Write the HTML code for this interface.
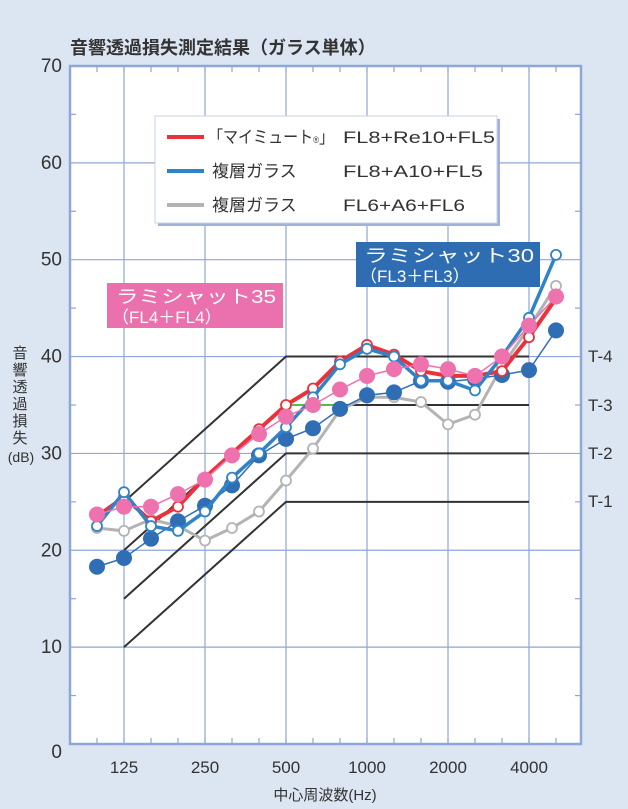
<!DOCTYPE html>
<html><head><meta charset="utf-8"><style>
body{margin:0;background:#dce5f2;}
svg{display:block;font-family:"Liberation Sans","Noto Sans CJK JP",sans-serif;}
</style></head><body>
<svg id="s" width="628" height="809" viewBox="0 0 628 809" xmlns="http://www.w3.org/2000/svg">
<rect x="0" y="0" width="628" height="809" fill="#dce5f2"/>
<text x="70" y="54" font-size="18" fill="#333" font-weight="bold">音響透過損失測定結果（ガラス単体）</text>
<rect x="70" y="66" width="511" height="678" fill="#fff" stroke="#8ea6d8" stroke-width="2.5"/>
<g id="grid" stroke="#8ea6d8" stroke-width="1.2"></g>
<g font-size="19" fill="#333" text-anchor="end" id="ylab"></g>
<g font-size="17" fill="#333" text-anchor="middle">
<text x="124" y="773">125</text><text x="205" y="773">250</text><text x="286" y="773">500</text>
<text x="367" y="773">1000</text><text x="448" y="773">2000</text><text x="529" y="773">4000</text>
<text x="325" y="800" font-size="15">中心周波数(Hz)</text>
</g>
<g font-size="15" fill="#333" text-anchor="middle">
<text x="20" y="358">音</text><text x="20" y="375">響</text><text x="20" y="392">透</text>
<text x="20" y="409">過</text><text x="20" y="426">損</text><text x="20" y="443">失</text>
<text x="21" y="462" font-size="14">(dB)</text>
</g>
<g id="tl" stroke="#333" stroke-width="2" fill="none"></g>
<g font-size="17" fill="#333"><text x="588" y="362">T-4</text><text x="588" y="411">T-3</text><text x="588" y="459">T-2</text><text x="588" y="507">T-1</text></g>
<g id="series"></g>
<rect x="158" y="119" width="342" height="107" fill="#9fb2dc"/>
<rect x="155" y="116" width="342" height="107" fill="#fff" stroke="#c8d0e0"/>
<line x1="167" y1="137" x2="204" y2="137" stroke="#e8323c" stroke-width="4"/>
<line x1="167" y1="171" x2="204" y2="171" stroke="#3183c8" stroke-width="4"/>
<line x1="167" y1="205" x2="204" y2="205" stroke="#b3b3b3" stroke-width="4"/>
<g font-size="17" fill="#333">
<text x="208" y="143" textLength="126" lengthAdjust="spacingAndGlyphs">「マイミュート<tspan font-size="9">®</tspan>」</text><text x="343" y="143" textLength="152" lengthAdjust="spacingAndGlyphs">FL8+Re10+FL5</text>
<text x="212" y="177">複層ガラス</text><text x="343" y="177" textLength="140" lengthAdjust="spacingAndGlyphs">FL8+A10+FL5</text>
<text x="212" y="211">複層ガラス</text><text x="343" y="211" textLength="122" lengthAdjust="spacingAndGlyphs">FL6+A6+FL6</text>
</g>
<rect x="107" y="283" width="176" height="45" fill="#ea70ae"/>
<text x="116" y="303" font-size="18" fill="#fff" textLength="160" lengthAdjust="spacingAndGlyphs">ラミシャット35</text>
<text x="112" y="323" font-size="17" fill="#fff">（FL4＋FL4）</text>
<rect x="356" y="242" width="184" height="45" fill="#2f6db3"/>
<text x="364" y="262" font-size="18" fill="#fff" textLength="170" lengthAdjust="spacingAndGlyphs">ラミシャット30</text>
<text x="360" y="282" font-size="17" fill="#fff">（FL3＋FL3）</text>
</svg>
<script>
var NS="http://www.w3.org/2000/svg";
function el(p,t,a){var e=document.createElementNS(NS,t);for(var k in a)e.setAttribute(k,a[k]);document.getElementById(p).appendChild(e);return e;}
function Y(v){return 744-9.686*v;}
function X(i){return 97+27*i;}
for(var v=10;v<70;v+=10)el("grid","line",{x1:70,x2:581,y1:Y(v),y2:Y(v)});
[124,205,286,367,448,529].forEach(function(x){el("grid","line",{x1:x,x2:x,y1:66,y2:744});});
for(var i=0;i<18;i++){var x=X(i);el("grid","line",{x1:x,x2:x,y1:66,y2:72});el("grid","line",{x1:x,x2:x,y1:738,y2:744});}
for(var v=5;v<70;v+=10){el("grid","line",{x1:70,x2:76,y1:Y(v),y2:Y(v)});el("grid","line",{x1:575,x2:581,y1:Y(v),y2:Y(v)});}
for(var v=0;v<=70;v+=10){var t=el("ylab","text",{x:62,y:Y(v)+(v==0?14:6)});t.textContent=v;}
[[25,40],[20,35],[15,30],[10,25]].forEach(function(a){el("tl","polyline",{points:"124,"+Y(a[0])+" 286,"+Y(a[1])+" 529,"+Y(a[1])});});
el("series","polyline",{points:X(7)+","+Y(35)+" "+X(9)+","+Y(35),stroke:"#5cb84a","stroke-width":2,fill:"none"});
var S=[
{c:"#b3b3b3",w:3,d:[22.3,22,23.2,22.5,21,22.3,24,27.2,30.5,34.5,35.8,35.8,35.3,33,34,39,43,47.3],m:"open"},
{c:"#2f6db5",w:1.5,d:[18.3,19.2,21.2,23,24.6,26.7,29.8,31.5,32.6,34.6,36,36.3,37.5,37.4,37.7,38.1,38.6,42.7],m:"fill",r:8},
{c:"#e8323c",w:4,d:[23.5,25.5,23,24.5,27.5,30,32.5,35,36.7,39.5,41.2,40.2,38.5,38,38,38.5,42,46],m:"open"},
{c:"#3183c8",w:3.5,d:[22.5,26,22.5,22,24,27.5,30,32.7,35.8,39.2,40.8,40,37.5,37.5,36.5,40,44,50.5],m:"open"},
{c:"#ee72ae",w:1.5,d:[23.7,24.5,24.5,25.8,27.3,29.8,32,33.8,35,36.6,38,38.7,39.2,38.7,38,40,43.2,46.2],m:"fill",r:8}
];
S.forEach(function(s){
 var p=s.d.map(function(v,i){return X(i)+","+Y(v);}).join(" ");
 el("series","polyline",{points:p,stroke:s.c,"stroke-width":s.w,fill:"none"});
 s.d.forEach(function(v,i){
  if(s.m=="open")el("series","circle",{cx:X(i),cy:Y(v),r:5,fill:"#fff",stroke:s.c,"stroke-width":1.8});
  else el("series","circle",{cx:X(i),cy:Y(v),r:s.r,fill:s.c});
 });
});
</script>
</body></html>
